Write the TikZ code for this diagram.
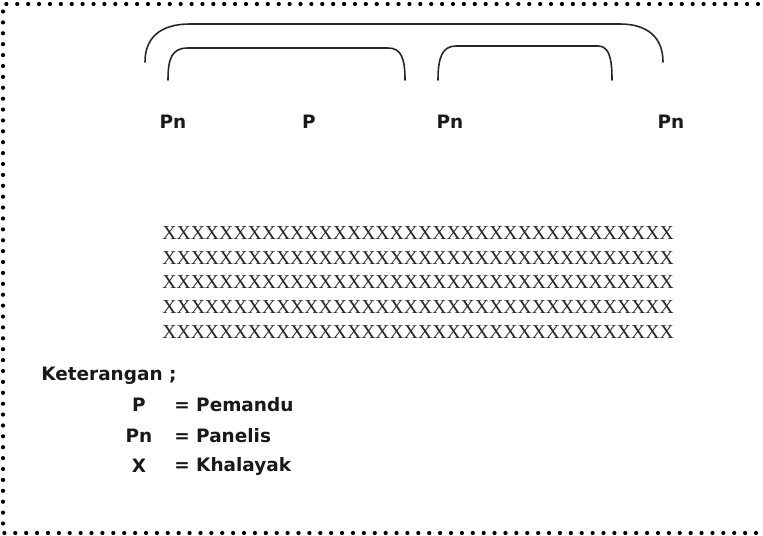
\documentclass[tikz,border=0pt]{standalone}
\usepackage{fontspec}
\setmainfont{Liberation Serif}
\newfontfamily\labelfont{DejaVu Sans}
\usetikzlibrary{positioning}

\def\crowdrow{XXXXXXXXXXXXXXXXXXXXXXXXXXXXXXXXXXXX}

\begin{document}
\begin{tikzpicture}[x=0.02cm,y=-0.02cm,line join=round,line cap=round,
  lbl/.style={inner sep=0pt,text=black!90,font=\labelfont\bfseries\fontsize{10.5}{12}\selectfont},
  crowd/.style={anchor=west,inner sep=0pt,text=black!85,font=\fontsize{11.2}{13}\selectfont},
  bracket/.style={line width=0.9pt,black!85},
  dotline/.style={line width=2.4pt,dash pattern=on 0pt off 6.2pt,line cap=round}]
\useasboundingbox (0,0) rectangle (763,536);
% dotted frame, open on the right
\draw[dotline] (758,4) -- (3,4) -- (3,533) -- (758,533);
% panel seats
\node[lbl] (pn1) at (173,122) {Pn};
\node[lbl] (p) at (309,122) {P};
\node[lbl] (pn2) at (450,122) {Pn};
\node[lbl] (pn3) at (671,122) {Pn};
% brackets over the seats
\draw[bracket] (145,62) .. controls (145,38) and (160,24) .. (190,24) -- (620,24) .. controls (648,24) and (663,38) .. (663,62);
\draw[bracket] (168,80) .. controls (168,58) and (172,48) .. (188,48) -- (388,48) .. controls (401,48) and (405,58) .. (405,80);
\draw[bracket] (438,80) .. controls (438,58) and (442,46) .. (456,46) -- (598,46) .. controls (609,46) and (612,58) .. (612,80);
% audience
\foreach \i in {0,...,4}{\node[crowd] (row\i) at (162,233+24.7*\i) {\crowdrow};}
% legend
\node[lbl,anchor=west] (ket) at (41,376) {Keterangan ;};
\foreach \y/\s/\t in {405/P/Pemandu,436/Pn/Panelis,466/X/Khalayak}{
  \node[lbl] (sym\t) at (139,\y) {\s};
  \node[lbl,anchor=west] (def\t) at (174,\y) {= \t};}
\end{tikzpicture}
\end{document}
